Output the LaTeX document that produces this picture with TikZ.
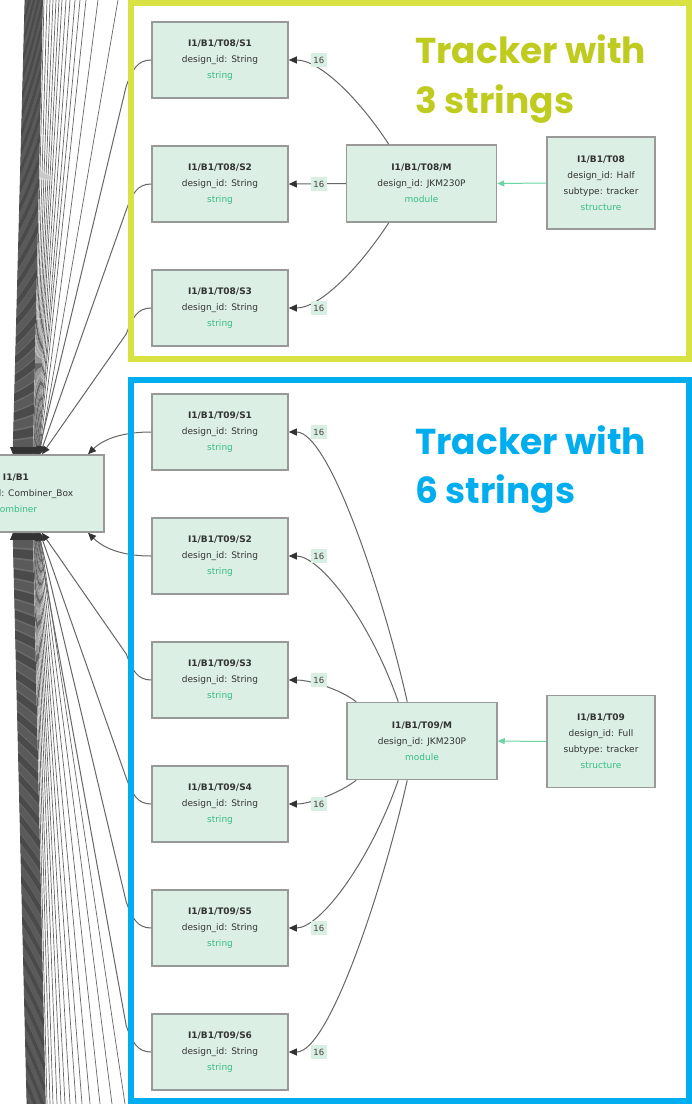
\documentclass[tikz,border=0pt]{standalone}
\usepackage{fontspec}
\setmainfont{DejaVu Sans}
\newfontfamily\titlefont{Poppins}
\usetikzlibrary{arrows.meta,calc}
\definecolor{nodefill}{HTML}{DCEFE5}
\definecolor{boxborder}{HTML}{999999}
\definecolor{greentext}{HTML}{35BE82}
\definecolor{edgegray}{HTML}{666666}
\definecolor{tipgray}{HTML}{333333}
\definecolor{fangray}{HTML}{4A4A4A}
\definecolor{lightgreen}{HTML}{6CD3A4}
\definecolor{yframe}{HTML}{D9E243}
\definecolor{ytext}{HTML}{BFCB1F}
\definecolor{bframe}{HTML}{00AEEF}
\definecolor{labelbg}{HTML}{D9EFE3}
\begin{document}
\begin{tikzpicture}[x=1pt,y=-1pt,
  box/.style={draw=boxborder, line width=1.5pt, fill=nodefill, align=center, inner sep=0pt,
    font=\fontsize{9}{16}\selectfont, text=black!80},
  strbox/.style={box, minimum width=136, minimum height=76},
  modbox/.style={box, minimum width=150, minimum height=77},
  strucbox/.style={box, minimum width=108, minimum height=92},
  combbox/.style={box, minimum width=176, minimum height=77},
  conn/.style={draw=edgegray, line width=1pt, -{Triangle[length=8pt,width=7pt,color=tipgray]}},
  fan/.style={draw=fangray, line width=0.7pt, -{Triangle[length=7pt,width=6pt,color=tipgray]}},
  sconn/.style={draw=lightgreen, line width=1pt, -{Triangle[length=7pt,width=6pt,color=lightgreen]}},
  lbl/.style={fill=labelbg, font=\fontsize{8.5}{9}\selectfont, inner xsep=2.5pt, inner ysep=4pt, text=black!75},
  ttl/.style={anchor=base west, inner sep=0pt, font=\titlefont\bfseries\fontsize{36}{36}\selectfont},
]
\path[use as bounding box] (0,0) rectangle (692,1104);
\clip (0,0) rectangle (692,1104);
\fill[white] (0,0) rectangle (692,1104);

% nodes
\node[combbox] (B1) at (16,493.5) {\textbf{I1/B1}\\design\_id: Combiner\_Box\\\textcolor{greentext}{combiner}};

\node[strbox] (T8S1) at (220,60) {\textbf{I1/B1/T08/S1}\\design\_id: String\\\textcolor{greentext}{string}};
\node[strbox] (T8S2) at (220,184) {\textbf{I1/B1/T08/S2}\\design\_id: String\\\textcolor{greentext}{string}};
\node[strbox] (T8S3) at (220,308) {\textbf{I1/B1/T08/S3}\\design\_id: String\\\textcolor{greentext}{string}};
\node[modbox] (M8) at (421.5,183.5) {\textbf{I1/B1/T08/M}\\design\_id: JKM230P\\\textcolor{greentext}{module}};
\node[strucbox] (ST8) at (601,183) {\textbf{I1/B1/T08}\\design\_id: Half\\subtype: tracker\\\textcolor{greentext}{structure}};

\node[strbox] (T9S1) at (220,432) {\textbf{I1/B1/T09/S1}\\design\_id: String\\\textcolor{greentext}{string}};
\node[strbox] (T9S2) at (220,556) {\textbf{I1/B1/T09/S2}\\design\_id: String\\\textcolor{greentext}{string}};
\node[strbox] (T9S3) at (220,680) {\textbf{I1/B1/T09/S3}\\design\_id: String\\\textcolor{greentext}{string}};
\node[strbox] (T9S4) at (220,804) {\textbf{I1/B1/T09/S4}\\design\_id: String\\\textcolor{greentext}{string}};
\node[strbox] (T9S5) at (220,928) {\textbf{I1/B1/T09/S5}\\design\_id: String\\\textcolor{greentext}{string}};
\node[strbox] (T9S6) at (220,1052) {\textbf{I1/B1/T09/S6}\\design\_id: String\\\textcolor{greentext}{string}};
\node[modbox] (M9) at (422,741) {\textbf{I1/B1/T09/M}\\design\_id: JKM230P\\\textcolor{greentext}{module}};
\node[strucbox] (ST9) at (601,741.5) {\textbf{I1/B1/T09}\\design\_id: Full\\subtype: tracker\\\textcolor{greentext}{structure}};

% fan of connectors from other trackers (above)
\foreach \i in {0,...,39} {
  \pgfmathsetmacro\xa{25+\i*0.45}
  \pgfmathsetmacro\xb{-3+\i*0.5}
  \draw[fan] (\xa,0) -- ($(B1.north)+(\xb,0)$);
}
\foreach \xa/\xb in {44/17.5,47/18,50/18.5,53/19,56/19.5,59/20,62/20.5,66/21,70/21.5,75/22,80/22,86/22.5,98/23,118/23.5} {
  \draw[fan, draw=edgegray] (\xa,0) -- ($(B1.north)+(\xb,0)$);
}
% fan of connectors from other trackers (below)
\foreach \i in {0,...,39} {
  \pgfmathsetmacro\xa{27+\i*0.47}
  \pgfmathsetmacro\xb{-3+\i*0.5}
  \draw[fan] (\xa,1104) -- ($(B1.south)+(\xb,0)$);
}
\foreach \xa/\xb in {47/17.5,50/18,53/18.5,57/19,61/19.5,65/20,70/20.5,76/21,82/21.5,90/22,100/22.5,112/23,125/23.5} {
  \draw[fan, draw=edgegray] (\xa,1104) -- ($(B1.south)+(\xb,0)$);
}

% strings -> combiner
\draw[conn] (T8S1.west) .. controls +(-14,0) and +(6,-16) .. ++(-25,26) -- ($(B1.north)+(22,0)$);
\draw[conn] (T8S2.west) .. controls +(-14,0) and +(6,-16) .. ++(-25,26) -- ($(B1.north)+(24,0)$);
\draw[conn] (T8S3.west) .. controls +(-14,0) and +(6,-16) .. ++(-25,26) -- ($(B1.north)+(26,0)$);
\draw[conn] (T9S1.west) .. controls +(-35,0) and +(12,-12) .. ($(B1.north)+(72,0)$);
\draw[conn] (T9S2.west) .. controls +(-35,0) and +(12,12) .. ($(B1.south)+(72,0)$);
\draw[conn] (T9S3.west) .. controls +(-14,0) and +(6,16) .. ++(-25,-26) -- ($(B1.south)+(26,0)$);
\draw[conn] (T9S4.west) .. controls +(-14,0) and +(6,16) .. ++(-25,-26) -- ($(B1.south)+(24,0)$);
\draw[conn] (T9S5.west) .. controls +(-14,0) and +(6,16) .. ++(-25,-26) -- ($(B1.south)+(22.5,0)$);
\draw[conn] (T9S6.west) .. controls +(-14,0) and +(6,16) .. ++(-25,-26) -- ($(B1.south)+(21,0)$);

% module -> strings
\draw[conn] ($(M8.north west)+(43,0)$) .. controls +(-30,-46) and +(31,0) .. (T8S1.east);
\draw[conn] (M8.west) -- (T8S2.east);
\draw[conn] ($(M8.south west)+(43,0)$) .. controls +(-30,46) and +(31,0) .. (T8S3.east);

\draw[conn] ($(M9.north west)+(61,0)$) .. controls +(-23,-103) and +(41,0) .. (T9S1.east);
\draw[conn] ($(M9.north west)+(52,0)$) .. controls +(-29,-83) and +(31,0) .. (T9S2.east);
\draw[conn] ($(M9.north west)+(10,0)$) .. controls +(-17,-13) and +(21,0) .. (T9S3.east);
\draw[conn] ($(M9.south west)+(10,0)$) .. controls +(-17,13) and +(21,0) .. (T9S4.east);
\draw[conn] ($(M9.south west)+(52,0)$) .. controls +(-29,83) and +(31,0) .. (T9S5.east);
\draw[conn] ($(M9.south west)+(61,0)$) .. controls +(-23,103) and +(41,0) .. (T9S6.east);

% structure -> module
\draw[sconn] (ST8.west) -- (M8.east);
\draw[sconn] (ST9.west) -- (M9.east);

% edge labels
\foreach \s in {T8S1,T8S2,T8S3,T9S1,T9S2,T9S3,T9S4,T9S5,T9S6} {
  \node[lbl] (L\s) at ($(\s.east)+(30,0)$) {16};
}

% frames
\draw[yframe, line width=6pt] (131,3) rectangle (689,359);
\draw[bframe, line width=6pt] (131,380) rectangle (689,1101);

% titles
\node[ttl, text=ytext] (t8a) at (415,63) {Tracker with};
\node[ttl, text=ytext] (t8b) at (415,113) {3 strings};
\node[ttl, text=bframe] (t9a) at (415,454) {Tracker with};
\node[ttl, text=bframe] (t9b) at (415,503) {6 strings};
\end{tikzpicture}
\end{document}
